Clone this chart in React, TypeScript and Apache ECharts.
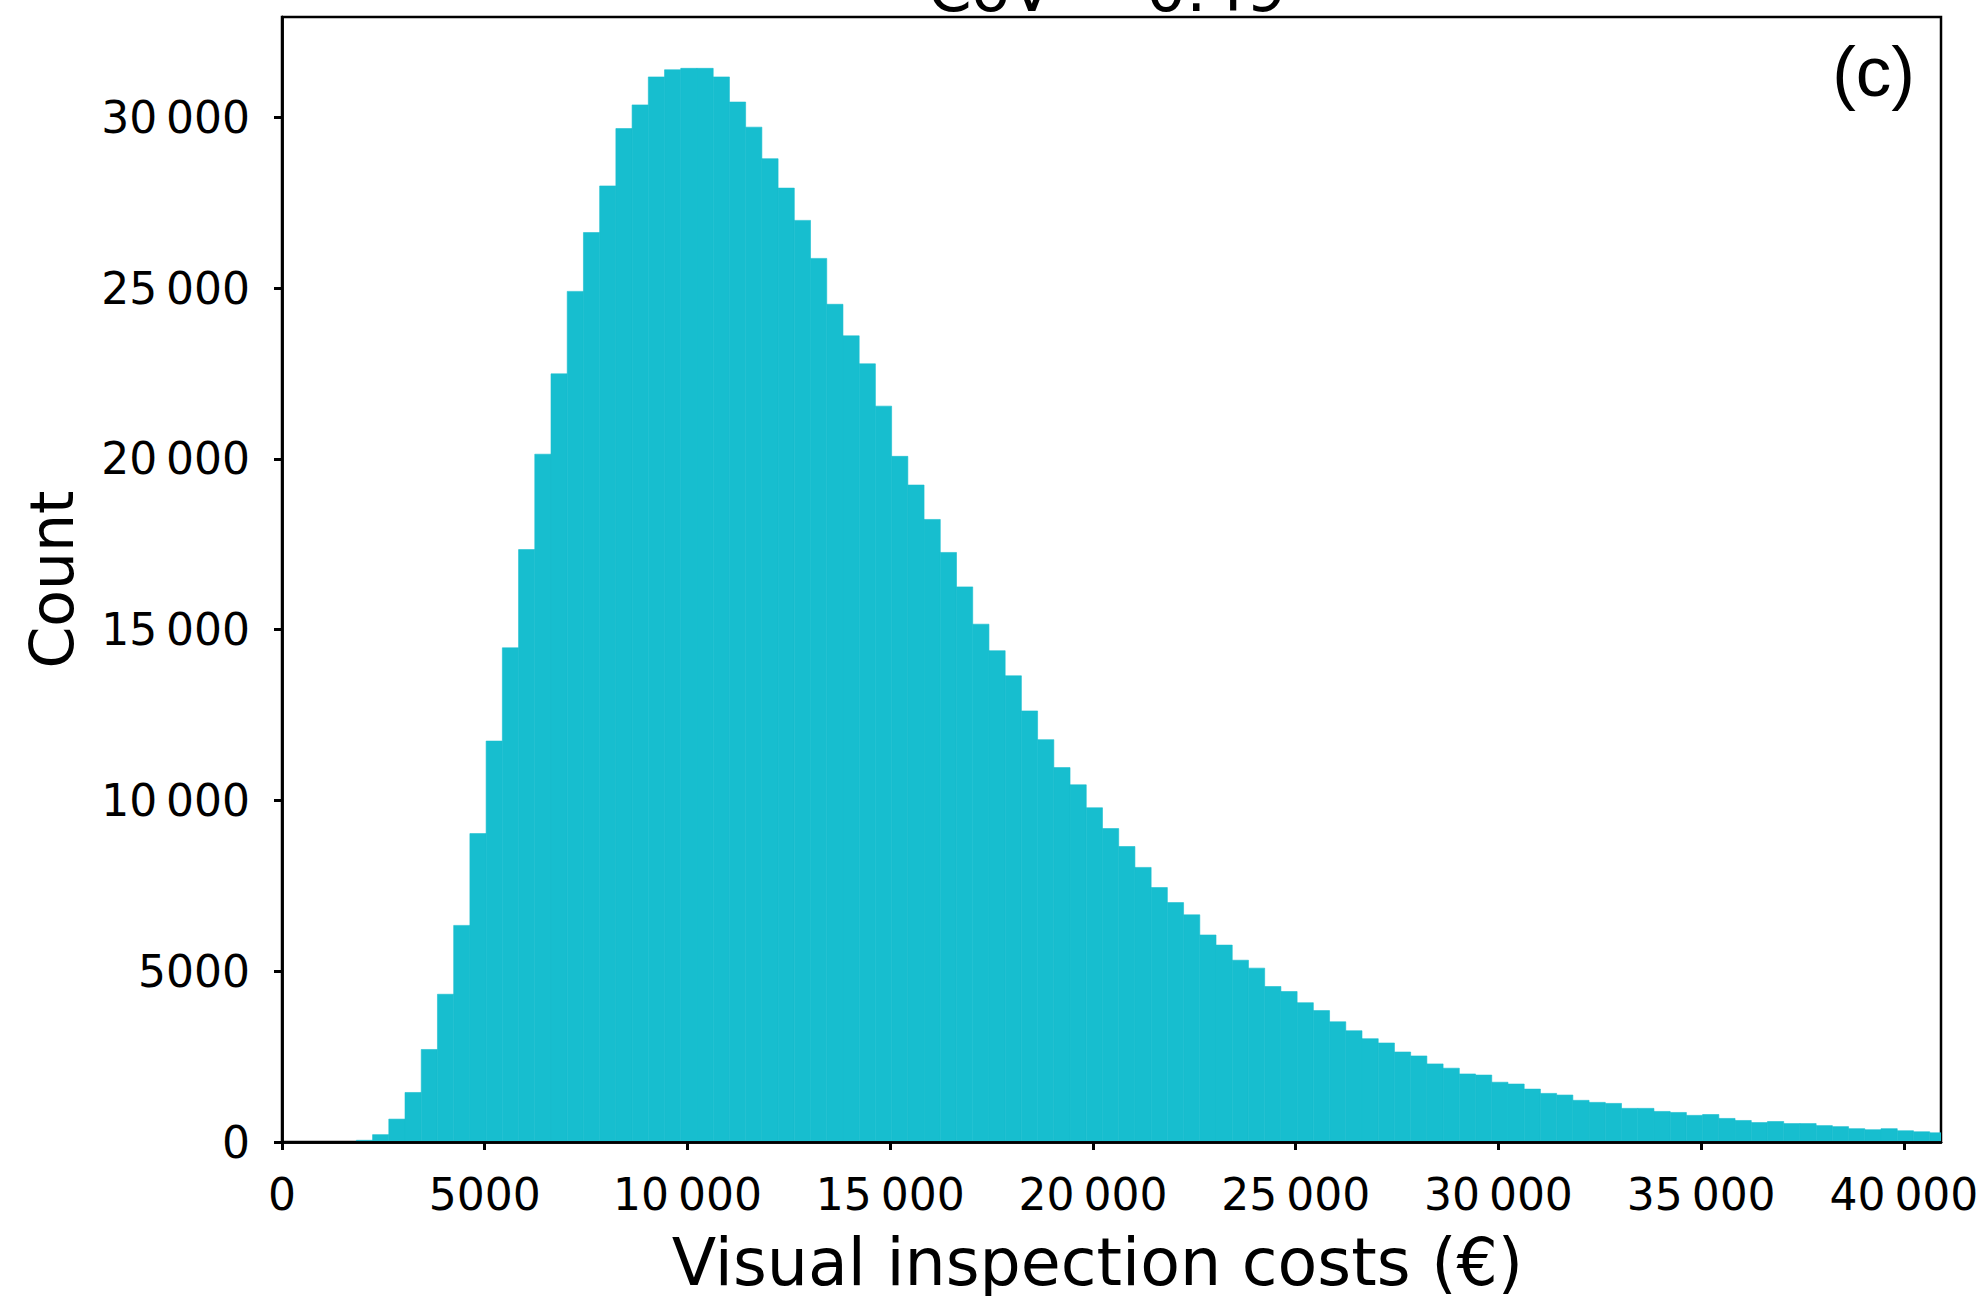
import React, { useEffect, useRef } from "react";
import * as echarts from "echarts";

// Histogram bins: first bin edge and bin width (€)
const BIN_START = 1834;
const BIN_WIDTH = 400;

// Counts per bin
const COUNTS = [
  50, 215, 670, 1450, 2709, 4326, 6342, 9030, 11739, 14469,
  17346, 20139, 22491, 24906, 26628, 27993, 29673, 30366, 31185, 31395,
  31437, 31437, 31185, 30450, 29715, 28791, 27930, 26985, 25872, 24528,
  23604, 22785, 21546, 20076, 19236, 18228, 17262, 16254, 15162, 14385,
  13650, 12621, 11781, 10962, 10458, 9786, 9177, 8652, 8040, 7450,
  7009, 6651, 6061, 5765, 5323, 5091, 4553, 4406, 4079, 3847,
  3520, 3257, 3025, 2899, 2635, 2519, 2287, 2161, 1992, 1960,
  1750, 1697, 1549, 1423, 1375, 1220, 1160, 1130, 985, 985,
  895, 865, 780, 805, 690, 630, 570, 600, 540, 540,
  480, 450, 390, 360, 390, 330, 300, 270,
];

const X_TICKS = [0, 5000, 10000, 15000, 20000, 25000, 30000, 35000, 40000];
const X_TICK_LABELS = ["0", "5000", "10\u2009000", "15\u2009000", "20\u2009000", "25\u2009000", "30\u2009000", "35\u2009000", "40\u2009000"];
const Y_TICKS = [0, 5000, 10000, 15000, 20000, 25000, 30000];
const Y_TICK_LABELS = ["0", "5000", "10\u2009000", "15\u2009000", "20\u2009000", "25\u2009000", "30\u2009000"];

const X_MAX = 40913;
const Y_MAX = 32940;

const TITLE = "CoV = 0.49";
const PANEL = "(c)";
const X_NAME = "Visual inspection costs (\u20AC)";
const Y_NAME = "Count";
const BAR_COLOR = "#17becf";

export default function App() {
  const ref = useRef<HTMLDivElement>(null);

  useEffect(() => {
    if (!ref.current) return;
    const chart = echarts.init(ref.current, undefined, { renderer: "svg" });
    const data = COUNTS.map((c, i) => [BIN_START + i * BIN_WIDTH, BIN_START + (i + 1) * BIN_WIDTH, c]);
    const font = "DejaVu Sans";
    const tickLabel = { fontSize: 44, fontFamily: font, color: "#000" };

    chart.setOption({
      animation: false,
      backgroundColor: "#fff",
      title: {
        text: TITLE,
        left: 1102,
        top: -47,
        textAlign: "center",
        textStyle: { fontSize: 63, fontWeight: "normal", fontFamily: font, color: "#000" },
      },
      grid: {
        left: 282,
        right: 45,
        top: 17,
        bottom: 154,
        containLabel: false,
        outerBoundsMode: "none",
        show: true,
        borderColor: "#000",
        borderWidth: 2.5,
        backgroundColor: "transparent",
      },
      xAxis: [
        {
          type: "value",
          min: 0,
          max: X_MAX,
          z: 10,
          name: X_NAME,
          nameLocation: "middle",
          nameGap: 88,
          nameTextStyle: { fontSize: 65, fontFamily: font, color: "#000", padding: [0, 28, 0, 0] },
          axisLine: { show: true, onZero: false, lineStyle: { color: "#000", width: 2.5 } },
          axisTick: { show: true, length: 8, customValues: X_TICKS, lineStyle: { color: "#000", width: 3 } },
          axisLabel: {
            ...tickLabel,
            margin: 30,
            customValues: X_TICKS,
            formatter: (v: number) => X_TICK_LABELS[X_TICKS.indexOf(v)] ?? "",
          },
          splitLine: { show: false },
        },
        {
          type: "value",
          position: "top",
          min: 0,
          max: X_MAX,
          z: 10,
          axisLine: { show: true, lineStyle: { color: "#000", width: 2.5 } },
          axisTick: { show: false },
          axisLabel: { show: false },
          splitLine: { show: false },
        },
      ],
      yAxis: [
        {
          type: "value",
          min: 0,
          max: Y_MAX,
          z: 10,
          name: Y_NAME,
          nameLocation: "middle",
          nameGap: 200,
          nameTextStyle: { fontSize: 60, fontFamily: font, color: "#000" },
          axisLine: { show: true, onZero: false, lineStyle: { color: "#000", width: 2.5 } },
          axisTick: { show: true, length: 8, customValues: Y_TICKS, lineStyle: { color: "#000", width: 3 } },
          axisLabel: {
            ...tickLabel,
            margin: 32,
            customValues: Y_TICKS,
            formatter: (v: number) => Y_TICK_LABELS[Y_TICKS.indexOf(v)] ?? "",
          },
          splitLine: { show: false },
        },
        {
          type: "value",
          position: "right",
          min: 0,
          max: Y_MAX,
          z: 10,
          axisLine: { show: true, lineStyle: { color: "#000", width: 2.5 } },
          axisTick: { show: false },
          axisLabel: { show: false },
          splitLine: { show: false },
        },
      ],
      graphic: [
        {
          type: "text",
          x: 1915,
          y: 71,
          z: 20,
          style: {
            text: PANEL,
            font: '71px "Liberation Sans"',
            fill: "#000",
            align: "right",
            verticalAlign: "middle",
          },
        },
      ],
      series: [
        {
          type: "custom",
          xAxisIndex: 0,
          yAxisIndex: 0,
          clip: true,
          encode: { x: [0, 1], y: 2 },
          data,
          renderItem: (params: any, api: any) => {
            const x0 = api.value(0);
            const x1 = api.value(1);
            const c = api.value(2);
            const pTop = api.coord([x0, c]);
            const pBot = api.coord([x1, 0]);
            const cs = params.coordSys;
            const shape = echarts.graphic.clipRectByRect(
              { x: pTop[0], y: pTop[1], width: pBot[0] - pTop[0], height: pBot[1] - pTop[1] },
              { x: cs.x, y: cs.y, width: cs.width, height: cs.height }
            );
            if (!shape) return null;
            return {
              type: "rect",
              shape,
              style: { fill: BAR_COLOR, stroke: BAR_COLOR, lineWidth: 0.6 },
            };
          },
        },
      ],
    });

    return () => chart.dispose();
  }, []);

  return (
    <div
      ref={ref}
      style={{ position: "fixed", left: 0, top: 0, width: 1986, height: 1296, background: "#fff" }}
    />
  );
}
